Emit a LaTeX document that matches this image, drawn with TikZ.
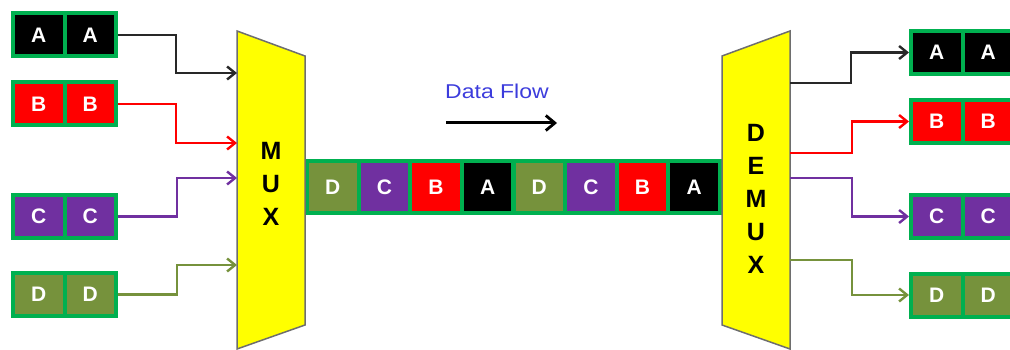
\documentclass[tikz,border=0pt]{standalone}
\usepackage{fontspec}
\setmainfont{Liberation Sans}
\usetikzlibrary{arrows.meta,calc}
\definecolor{cellgreen}{RGB}{0,176,80}
\definecolor{chA}{RGB}{0,0,0}
\definecolor{chB}{RGB}{255,0,0}
\definecolor{chC}{RGB}{112,48,160}
\definecolor{chD}{RGB}{118,146,60}
\definecolor{lineA}{RGB}{40,40,40}
\definecolor{muxyellow}{RGB}{255,255,0}
\definecolor{muxedge}{RGB}{110,110,110}
\definecolor{flowblue}{RGB}{60,60,220}
\tikzset{
  cell/.style={draw=cellgreen, line width=4pt, fill=#1, minimum width=51.5pt,
    minimum height=43pt, inner sep=0pt, text=white,
    font=\fontsize{21}{21}\selectfont\bfseries},
  buscell/.style={cell=#1, minimum width=51.6pt, minimum height=52pt},
  muxbody/.style={fill=muxyellow, draw=muxedge, line width=1.5pt, line join=miter},
  muxlabel/.style={align=center, font=\fontsize{25}{33}\selectfont\bfseries},
  conn/.style={line width=2.6pt, -{Straight Barb[length=8pt,width=13pt,line width=2.4pt]}},
  flowarrow/.style={line width=3pt, -{Straight Barb[length=9pt,width=15pt,line width=2.8pt]}}
}
\begin{document}
\begin{tikzpicture}[x=1pt,y=-1pt]
\useasboundingbox (0,0) rectangle (1010,350);
\clip (0,0) rectangle (1010,350);

% input channel boxes
\foreach \ch/\yy in {A/35,B/104,C/216.5,D/294.5}{
  \node[cell=ch\ch] (in\ch1) at (38.75,\yy) {\ch};
  \node[cell=ch\ch] (in\ch2) at (90.25,\yy) {\ch};
}

% output channel boxes
\foreach \ch/\yy in {A/52.5,B/121.5,C/216.5,D/295}{
  \node[cell=ch\ch] (out\ch1) at (936.75,\yy) {\ch};
  \node[cell=ch\ch] (out\ch2) at (988.25,\yy) {\ch};
}

% multiplexed line between the two blocks
\foreach \ch [count=\i] in {D,C,B,A,D,C,B,A}{
  \node[buscell=ch\ch] (bus\i) at ({307+51.625*(\i-0.5)},187) {\ch};
}

% multiplexer and demultiplexer bodies
\draw[muxbody] (237,31) -- (305,56) -- (305,325) -- (237,349) -- cycle;
\node[muxlabel] (mux) at (271,184) {M\\U\\X};
\draw[muxbody] (722,56) -- (790,31) -- (790,349) -- (722,325) -- cycle;
\node[muxlabel] (demux) at (756,199) {D\\E\\M\\U\\X};

% connection points on the block edges
\coordinate (muxA) at (237,73);
\coordinate (muxB) at (237,143);
\coordinate (muxC) at (237,178);
\coordinate (muxD) at (237,265);
\coordinate (demA) at (790,83);
\coordinate (demB) at (790,153);
\coordinate (demC) at (790,178);
\coordinate (demD) at (790,260);

% inputs into the multiplexer
\draw[conn, draw=lineA] (inA2.east) -| (176,73) -- (muxA);
\draw[conn, draw=chB] (inB2.east) -| (176,143) -- (muxB);
\draw[conn, draw=chC] (inC2.east) -| (177,178) -- (muxC);
\draw[conn, draw=chD] (inD2.east) -| (177,265) -- (muxD);

% outputs from the demultiplexer
\draw[conn, draw=lineA] (demA) -| (851,52.5) -- (outA1.west);
\draw[conn, draw=chB] (demB) -| (852,121.5) -- (outB1.west);
\draw[conn, draw=chC] (demC) -| (852,216.5) -- (outC1.west);
\draw[conn, draw=chD] (demD) -| (852,295) -- (outD1.west);

% direction of travel
\node[text=flowblue, font=\fontsize{20}{20}\selectfont, xscale=1.15] (flow) at (497,91) {Data Flow};
\coordinate (flowS) at (446,123);
\coordinate (flowE) at (557,123);
\draw[flowarrow] (flowS) -- (flowE);
\end{tikzpicture}
\end{document}
